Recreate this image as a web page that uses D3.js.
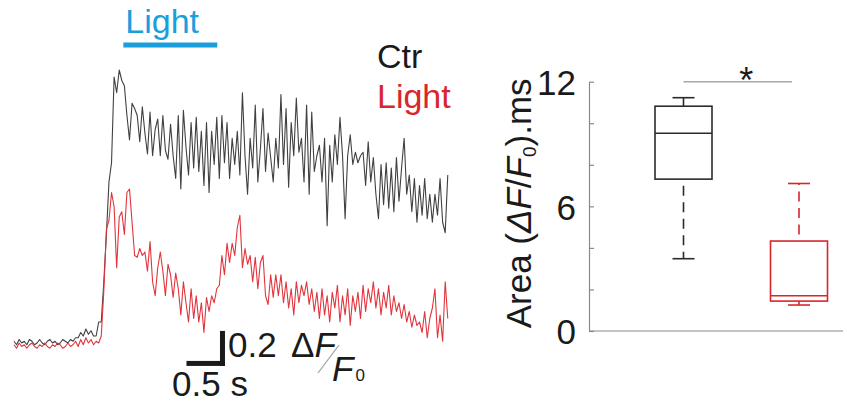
<!DOCTYPE html>
<html><head><meta charset="utf-8">
<script src="https://cdn.jsdelivr.net/npm/d3@7"></script>
<style>
body{margin:0;background:#fff}
svg{display:block;font-family:"Liberation Sans",Arial,Helvetica,sans-serif}
</style>
</head><body>
<svg id="c" width="847" height="403"></svg>
<script>
// ---------- data ----------
const frameRate = 30; // frames per second (time step of the traces)
// Ctr trace, ΔF/F0 per frame
const ctrTrace = [
0.01,-0.01,0.02,0.00,0.01,-0.01,0.02,0.01,-0.01,0.00,
0.02,0.00,-0.01,0.01,0.02,0.00,0.01,-0.01,0.00,0.02,
0.01,0.00,0.02,0.01,0.03,0.03,0.06,0.04,0.08,0.05,
0.07,0.04,0.04,0.12,0.12,0.35,0.62,0.92,1.03,1.52,
1.43,1.56,1.50,1.47,1.30,1.16,1.37,1.34,1.30,1.15,
1.35,1.20,1.08,1.32,1.07,1.22,1.28,1.07,1.30,1.10,
1.05,1.25,1.07,0.94,1.30,0.88,1.33,1.12,0.96,1.26,
1.00,1.29,0.98,1.21,0.90,1.26,0.86,1.21,1.02,1.29,
0.94,1.30,1.03,1.26,0.94,1.17,1.02,1.21,0.96,1.43,
1.07,0.85,1.17,1.00,1.36,0.92,1.11,1.34,0.98,1.20,
1.06,0.92,1.17,1.00,1.42,1.02,1.34,0.89,1.26,1.07,
1.40,1.09,1.17,0.92,1.36,0.85,1.32,0.98,1.07,1.13,
0.92,1.17,0.67,1.13,0.92,1.19,1.02,1.29,1.07,0.71,
1.07,1.19,1.02,1.09,1.03,1.07,1.09,0.90,1.15,0.92,
1.06,0.85,0.71,1.02,0.79,1.03,0.77,1.00,0.75,1.06,
0.81,1.00,1.17,0.85,0.96,0.75,0.94,0.69,0.90,0.73,
0.94,0.71,0.85,0.69,0.85,0.73,0.94,0.69,0.63,0.96
];
// Light trace, ΔF/F0 per frame
const lightTrace = [
-0.01,-0.03,0.00,-0.02,-0.01,-0.03,-0.01,0.00,-0.02,-0.03,
-0.01,-0.02,0.00,-0.02,-0.03,-0.01,-0.02,0.00,-0.01,-0.03,
-0.02,0.00,-0.02,-0.01,0.01,-0.02,0.02,-0.01,0.03,0.00,
0.02,-0.01,0.01,0.00,0.04,0.30,0.65,0.70,0.86,0.78,
0.43,0.72,0.75,0.62,0.86,0.88,0.69,0.50,0.49,0.54,
0.50,0.52,0.41,0.58,0.35,0.27,0.43,0.52,0.41,0.27,
0.45,0.39,0.26,0.40,0.31,0.16,0.35,0.23,0.12,0.31,
0.14,0.27,0.12,0.23,0.06,0.26,0.18,0.27,0.23,0.31,
0.33,0.50,0.39,0.57,0.46,0.57,0.50,0.66,0.73,0.43,
0.54,0.45,0.50,0.35,0.49,0.31,0.46,0.50,0.27,0.22,
0.39,0.26,0.39,0.27,0.39,0.23,0.35,0.20,0.31,0.16,
0.35,0.23,0.33,0.27,0.35,0.22,0.31,0.18,0.29,0.14,
0.31,0.16,0.27,0.12,0.29,0.20,0.33,0.12,0.27,0.16,
0.31,0.10,0.27,0.18,0.29,0.14,0.33,0.18,0.31,0.23,
0.35,0.20,0.31,0.16,0.29,0.20,0.33,0.16,0.27,0.18,
0.23,0.14,0.22,0.12,0.18,0.09,0.16,0.10,0.12,0.06,
0.18,0.03,0.14,0.20,0.31,0.03,0.16,0.01,0.35,0.14
];
const lightPeriod = [1.42, 2.64];        // s
const scaleBarTime = 0.5;                 // s
const scaleBarDF = 0.2;                   // ΔF/F0
const scaleBarCorner = [2.74, -0.131];    // [s, ΔF/F0]

// box plot (Area (ΔF/F0).ms)
const groups = ["Ctr", "Light"];
const whiskerLow  = [3.48, 1.25];
const q1          = [7.31, 1.44];
const median      = [9.52, 1.70];
const q3          = [10.82, 4.33];
const whiskerHigh = [11.23, 7.10];
const yTicks = [0, 2, 4, 6, 8, 10, 12];
const yTickLabels = ["0", "", "", "6", "", "", "12"];
const sigLevel = 12;
const sigLabel = "*";

// ---------- drawing ----------
const svg = d3.select("#c");
const FONT = 35;
const BLUE = "#1b9fdc", RED = "#d8262d", DARK = "#2b2b2b";

// Left panel scales
const xT = d3.scaleLinear().domain([0, 1]).range([14, 91]);
const yV = d3.scaleLinear().domain([0, 1]).range([343, 168]);
const line = d3.line().x((d, i) => xT(i / frameRate)).y(d => yV(d));

svg.append("path").datum(ctrTrace).attr("d", line)
  .attr("fill", "none").attr("stroke", "#404040").attr("stroke-width", 1.1)
  .attr("stroke-linejoin", "round");
svg.append("path").datum(lightTrace).attr("d", line)
  .attr("fill", "none").attr("stroke", "#e2343c").attr("stroke-width", 1.1)
  .attr("stroke-linejoin", "round");

// Light bar + label
svg.append("line")
  .attr("x1", xT(lightPeriod[0])).attr("x2", xT(lightPeriod[1]))
  .attr("y1", 45).attr("y2", 45)
  .attr("stroke", BLUE).attr("stroke-width", 5);
svg.append("text").attr("x", xT(lightPeriod[0]) + 2).attr("y", 33)
  .attr("font-size", 34).attr("fill", BLUE).text("Light");

// legend
svg.append("text").attr("x", 377).attr("y", 68).attr("font-size", 34)
  .attr("fill", "#1a1a1a").text("Ctr");
svg.append("text").attr("x", 377).attr("y", 108).attr("font-size", 34)
  .attr("fill", RED).text("Light");

// scale bar
const [cT, cV] = scaleBarCorner;
const th = 5;
svg.append("rect")
  .attr("x", xT(cT - scaleBarTime)).attr("width", xT(cT) - xT(cT - scaleBarTime))
  .attr("y", yV(cV) - th).attr("height", th).attr("fill", "#1a1a1a");
svg.append("rect")
  .attr("x", xT(cT) - th).attr("width", th)
  .attr("y", yV(cV + scaleBarDF)).attr("height", yV(cV) - yV(cV + scaleBarDF))
  .attr("fill", "#1a1a1a");
svg.append("text").attr("x", xT(cT) + 3).attr("y", 357).attr("font-size", FONT)
  .attr("fill", "#1a1a1a").text(scaleBarDF.toFixed(1));
const dfT = svg.append("text").attr("x", 291).attr("y", 357).attr("font-size", FONT).attr("fill", "#1a1a1a");
dfT.append("tspan").text("Δ");
dfT.append("tspan").attr("font-style", "italic").text("F");
svg.append("line").attr("x1", 318).attr("y1", 373).attr("x2", 339).attr("y2", 345)
  .attr("stroke", "#a0a0a0").attr("stroke-width", 1.2);
const f0 = svg.append("text").attr("x", 332).attr("y", 381).attr("font-size", FONT).attr("fill", "#1a1a1a");
f0.append("tspan").attr("font-style", "italic").text("F");
f0.append("tspan").attr("font-size", 17).attr("dx", 2).text("0");
svg.append("text").attr("x", 172).attr("y", 396).attr("font-size", FONT)
  .attr("fill", "#1a1a1a").text(scaleBarTime + " s");

// Box plot
const yA = d3.scaleLinear().domain([0, 12]).range([331, 81.7]);
const xG = d3.scalePoint().domain(groups).range([683.5, 799]);
const axisX = 589;
const AXC = "#8a8a8a";

const ax = svg.append("g").attr("transform", `translate(${axisX},0)`)
  .call(d3.axisLeft(yA).tickValues(yTicks)
    .tickFormat((d, i) => yTickLabels[i])
    .tickSizeInner(-5).tickSizeOuter(0).tickPadding(13));
ax.select(".domain").attr("stroke", AXC).attr("stroke-width", 1.2);
ax.selectAll(".tick line").attr("stroke", AXC).attr("stroke-width", 1.2);
ax.selectAll(".tick text").attr("font-size", FONT).attr("fill", "#1a1a1a")
  .attr("font-family", "'Liberation Sans',Arial,sans-serif").attr("dy", "0.37em");

svg.append("line").attr("x1", axisX).attr("x2", 843)
  .attr("y1", yA(0)).attr("y2", yA(0)).attr("stroke", AXC).attr("stroke-width", 1.2);

// y label
const yl = svg.append("text")
  .attr("transform", `translate(531,${(yA(0) + yA(12)) / 2 - 3}) rotate(-90)`)
  .attr("text-anchor", "middle").attr("font-size", FONT).attr("fill", "#1a1a1a");
yl.append("tspan").text("Area (");
yl.append("tspan").attr("font-style", "italic").text("ΔF");
yl.append("tspan").text("/");
yl.append("tspan").attr("font-style", "italic").text("F");
yl.append("tspan").attr("font-size", 19).attr("dy", 5).text("0");
yl.append("tspan").attr("dy", -5).text(").ms");

const boxW = 57, capW = 22;
groups.forEach((g, i) => {
  const cx = xG(g);
  const col = i === 0 ? DARK : RED;
  const G = svg.append("g").attr("stroke", col).attr("fill", "none").attr("stroke-width", 1.6);
  G.append("rect").attr("x", cx - boxW / 2).attr("width", boxW)
    .attr("y", yA(q3[i])).attr("height", yA(q1[i]) - yA(q3[i]));
  G.append("line").attr("x1", cx - boxW / 2).attr("x2", cx + boxW / 2)
    .attr("y1", yA(median[i])).attr("y2", yA(median[i]));
  // upper whisker
  G.append("line").attr("x1", cx).attr("x2", cx)
    .attr("y1", yA(q3[i])).attr("y2", yA(whiskerHigh[i]))
    .attr("stroke-dasharray", "10,6.5").attr("stroke-dashoffset", 10);
  // lower whisker
  G.append("line").attr("x1", cx).attr("x2", cx)
    .attr("y1", yA(q1[i])).attr("y2", yA(whiskerLow[i]))
    .attr("stroke-dasharray", "10,6.5").attr("stroke-dashoffset", 10);
  [whiskerHigh[i], whiskerLow[i]].forEach(v => {
    G.append("line").attr("x1", cx - capW / 2).attr("x2", cx + capW / 2)
      .attr("y1", yA(v)).attr("y2", yA(v));
  });
  // short whiskers look solid
  G.selectAll("line").filter(function () {
    const y1 = +this.getAttribute("y1"), y2 = +this.getAttribute("y2");
    return this.getAttribute("stroke-dasharray") && Math.abs(y1 - y2) < 14;
  }).attr("stroke-dasharray", null);
});

// significance
svg.append("line").attr("x1", xG("Ctr")).attr("x2", xG("Light") - 7)
  .attr("y1", yA(sigLevel)).attr("y2", yA(sigLevel))
  .attr("stroke", "#a8a8a8").attr("stroke-width", 1.4);
svg.append("text").attr("x", (xG("Ctr") + xG("Light")) / 2 + 5).attr("y", 93)
  .attr("text-anchor", "middle").attr("font-size", 36).attr("fill", "#1a1a1a").text(sigLabel);
</script>
</body></html>
